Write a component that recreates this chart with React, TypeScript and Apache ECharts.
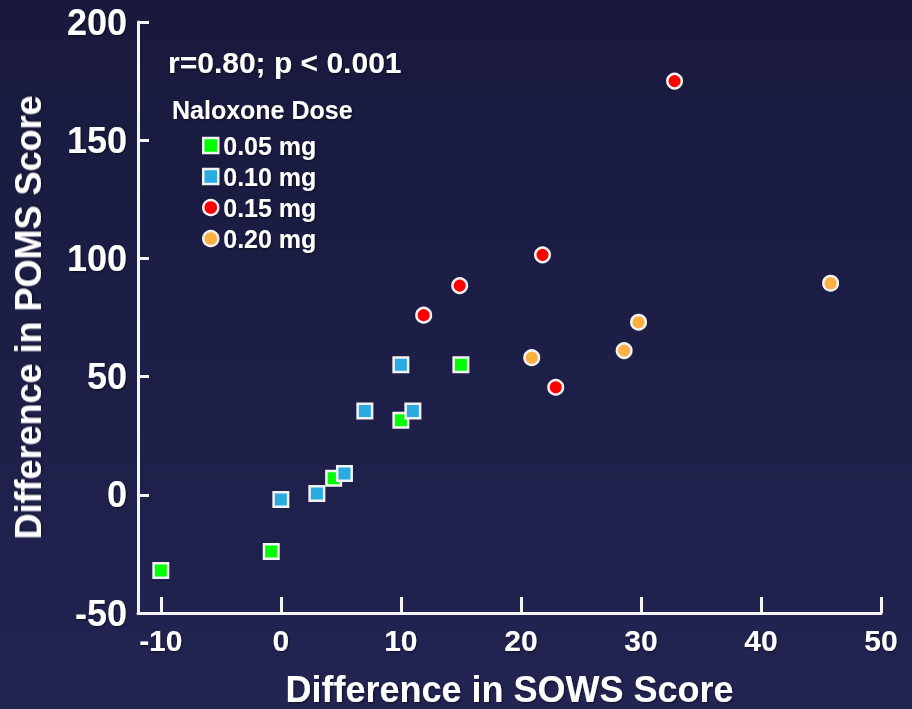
import React, { useEffect, useRef } from "react";
import * as echarts from "echarts";

const xTickValues = [-10, 0, 10, 20, 30, 40, 50];
const dose005 = [[-10, -32], [-0.8, -24], [4.4, 7], [10, 31.5], [15, 55]];
const dose010 = [[0, -2], [3, 0.5], [5.3, 9], [7, 35.5], [10, 55], [11, 35.5]];
const dose015 = [[11.9, 76], [14.9, 88.5], [21.8, 101.5], [22.9, 45.5], [32.8, 175]];
const dose020 = [[20.9, 58], [28.6, 61], [29.8, 73], [45.8, 89.5]];
const seriesNames = ["0.05 mg", "0.10 mg", "0.15 mg", "0.20 mg"];
const seriesColors = ["#00ff00", "#29abe2", "#ff0000", "#fbb040"];

const FONT = "'Liberation Sans', Arial, Helvetica, sans-serif";

export default function App() {
  const ref = useRef<HTMLDivElement>(null);
  useEffect(() => {
    document.body.style.margin = "0";
    const chart = echarts.init(ref.current!, null, { renderer: "svg" });
    const shadow = {
      textShadowColor: "rgba(0,0,0,0.55)",
      textShadowBlur: 2,
      textShadowOffsetX: 1,
      textShadowOffsetY: 1,
    };
    const mk = (name: string, data: number[][], color: string, symbol: string) => ({
      type: "scatter",
      name,
      data,
      symbol,
      symbolSize: 14.5,
      itemStyle: { color, borderColor: "#f2f2f2", borderWidth: 2.5, opacity: 1 },
      emphasis: { disabled: true },
    });
    chart.setOption({
      animation: false,
      backgroundColor: {
        type: "linear",
        x: 0, y: 0, x2: 0, y2: 1,
        colorStops: [
          { offset: 0, color: "#18193c" },
          { offset: 1, color: "#222452" },
        ],
      },
      textStyle: { fontFamily: FONT },
      grid: { left: 138, top: 22, right: 31, bottom: 96, outerBoundsMode: "none" },
      legend: {
        orient: "vertical",
        left: 202,
        top: 133,
        padding: 0,
        itemWidth: 15,
        itemHeight: 15,
        itemGap: 6,
        itemTextGap: 12,
        selectedMode: false,
        data: [
          { name: seriesNames[0], icon: "rect" },
          { name: seriesNames[1], icon: "rect" },
          { name: seriesNames[2], icon: "circle" },
          { name: seriesNames[3], icon: "circle" },
        ],
        itemStyle: { borderColor: "#f2f2f2", borderWidth: 2.5 },
        textStyle: { color: "#ffffff", fontSize: 25, fontWeight: "bold", fontFamily: FONT, ...shadow },
      },
      graphic: [
        {
          type: "text",
          left: 168,
          top: 47,
          style: {
            text: "r=0.80; p < 0.001",
            fill: "#ffffff",
            font: `bold 30px ${FONT}`,
            ...shadow,
          },
        },
        {
          type: "text",
          left: 172,
          top: 97,
          style: {
            text: "Naloxone Dose",
            fill: "#ffffff",
            font: `bold 25px ${FONT}`,
            ...shadow,
          },
        },
      ],
      xAxis: {
        type: "value",
        min: -11.9,
        max: 50,
        name: "Difference in SOWS Score",
        nameLocation: "middle",
        nameGap: 58,
        nameTextStyle: { color: "#ffffff", fontSize: 36, fontWeight: "bold", fontFamily: FONT, ...shadow },
        splitLine: { show: false },
        axisLine: { show: true, onZero: false, lineStyle: { color: "#f4f4f4", width: 3 } },
        axisTick: {
          show: true,
          inside: true,
          length: 16,
          customValues: xTickValues,
          lineStyle: { color: "#f4f4f4", width: 3 },
        },
        axisLabel: {
          customValues: xTickValues,
          color: "#ffffff",
          fontSize: 30,
          fontWeight: "bold",
          fontFamily: FONT,
          margin: 12,
          ...shadow,
        },
      },
      yAxis: {
        type: "value",
        min: -50,
        max: 200,
        interval: 50,
        name: "Difference in POMS Score",
        nameLocation: "middle",
        nameGap: 92,
        nameTextStyle: { color: "#ffffff", fontSize: 36, fontWeight: "bold", fontFamily: FONT, ...shadow },
        splitLine: { show: false },
        axisLine: { show: true, onZero: false, lineStyle: { color: "#f4f4f4", width: 3 } },
        axisTick: { show: true, inside: true, length: 11, lineStyle: { color: "#f4f4f4", width: 3 } },
        axisLabel: {
          color: "#ffffff",
          fontSize: 36,
          fontWeight: "bold",
          fontFamily: FONT,
          margin: 11,
          ...shadow,
        },
      },
      series: [
        mk(seriesNames[0], dose005, seriesColors[0], "rect"),
        mk(seriesNames[1], dose010, seriesColors[1], "rect"),
        mk(seriesNames[2], dose015, seriesColors[2], "circle"),
        mk(seriesNames[3], dose020, seriesColors[3], "circle"),
      ],
    });
    return () => chart.dispose();
  }, []);
  return (
    <div
      ref={ref}
      style={{ position: "fixed", left: 0, top: 0, width: 912, height: 709 }}
    />
  );
}
